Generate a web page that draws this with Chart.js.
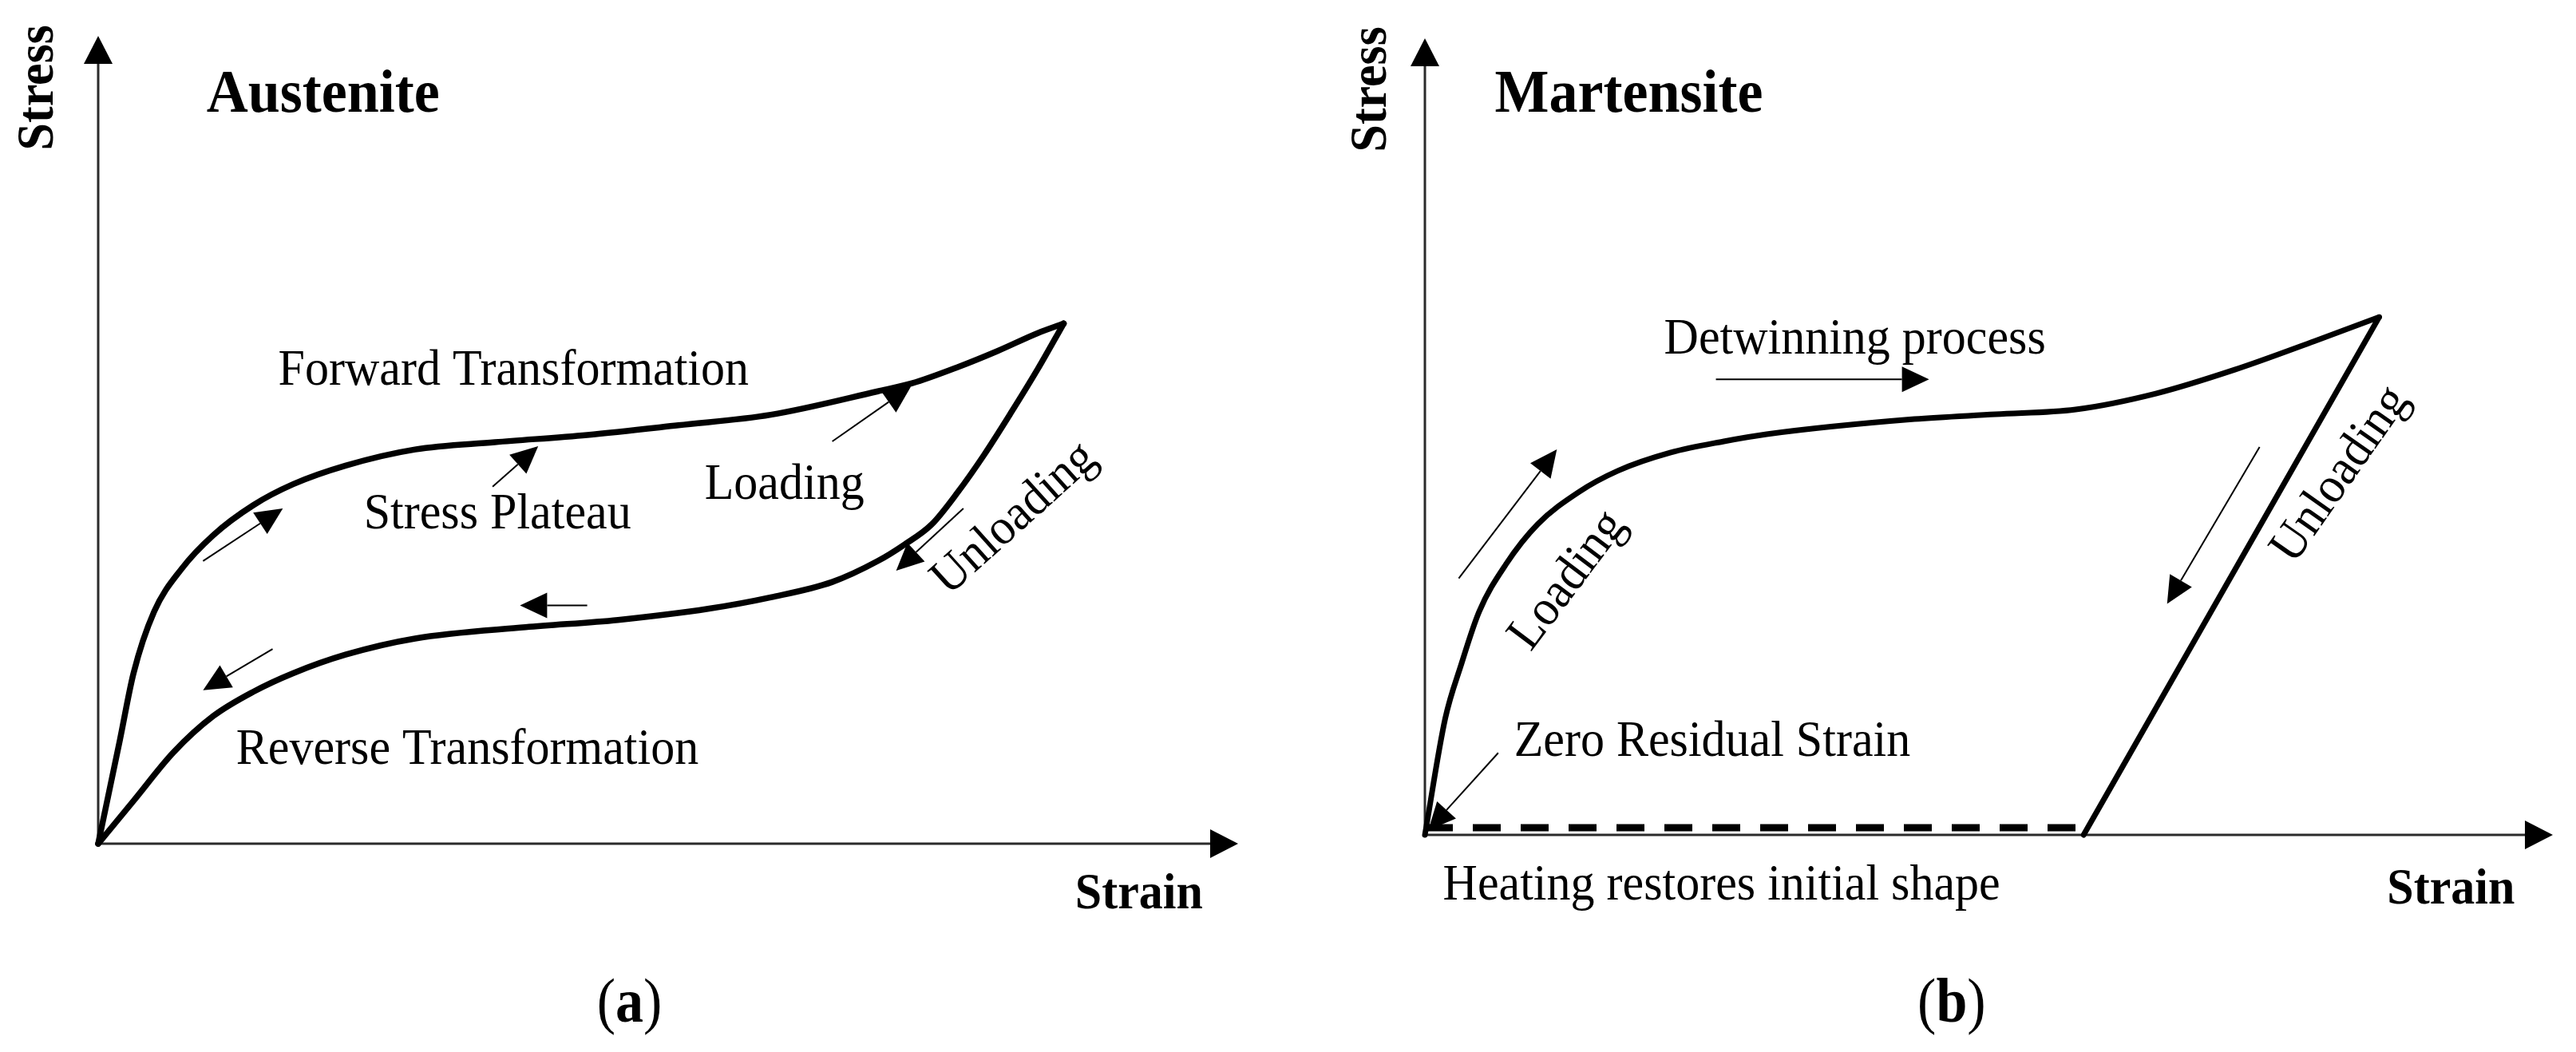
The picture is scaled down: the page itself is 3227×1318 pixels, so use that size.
<!DOCTYPE html>
<html>
<head>
<meta charset="utf-8">
<title>Austenite / Martensite stress-strain</title>
<script src="https://cdn.jsdelivr.net/npm/chart.js@4.4.1/dist/chart.umd.min.js"></script>
<style>
  html, body { margin: 0; padding: 0; background: #fff; }
  body { width: 3227px; height: 1318px; position: relative; overflow: hidden; }
  canvas { position: absolute; top: 0; }
  #austenite { left: 0; }
  #martensite { left: 1613px; }
</style>
</head>
<body>
<canvas id="austenite" width="1613" height="1318"></canvas>
<canvas id="martensite" width="1614" height="1318"></canvas>
<script>
// Normalised strain / stress (0-100)

// (a) Austenite - superelastic loop
const austForwardStrain = [0, 1.9, 3.1, 4.9, 7.3, 10.1, 13.6, 17.1, 21.7, 27.8, 34.8, 42.9, 50.9, 59.0, 68.4, 71.4, 75.4, 78.9, 82.4, 84.7];
const austForwardStress = [0, 12.8, 21.1, 28.7, 34.0, 38.2, 41.9, 44.5, 46.8, 48.8, 49.7, 50.6, 51.8, 53.1, 56.0, 57.0, 59.0, 61.0, 63.2, 64.4];
const austReverseStrain = [84.7, 82.4, 80.1, 77.7, 75.4, 73.1, 70.7, 68.4, 64.4, 59.0, 53.6, 45.6, 37.5, 27.8, 21.7, 17.1, 13.6, 10.1, 6.6, 3.1, 0];
const austReverseStress = [64.4, 58.7, 53.4, 48.1, 43.5, 39.5, 37.0, 35.0, 32.4, 30.5, 29.1, 27.7, 26.8, 25.4, 23.4, 21.1, 18.8, 15.8, 11.3, 5.3, 0];

// (b) Martensite - detwinning
const martLoadStrain = [0, 1.8, 3.2, 4.8, 7.2, 10.0, 13.6, 17.1, 21.8, 26.5, 30.3, 43.4, 50.6, 57.7, 64.8, 71.8, 78.9, 84.6];
const martLoadStress = [0, 14.6, 21.3, 28.0, 34.0, 39.0, 43.0, 45.7, 48.0, 49.4, 50.3, 52.2, 52.8, 53.4, 55.4, 58.4, 62.0, 65.0];
const martUnloadStrain = [84.6, 58.4];
const martUnloadStress = [65.0, 0];
const martHeatStrain = [0, 58.4];
const martHeatStress = [0.9, 0.9];

// annotation arrows: [tailStrain, tailStress, tipStrain, tipStress]
const austArrows = [
  [9.2, 35.0, 16.2, 41.5],
  [34.6, 44.2, 38.6, 49.2],
  [64.4, 49.8, 71.3, 56.6],
  [75.9, 41.5, 70.0, 33.8],
  [42.9, 29.5, 37.0, 29.5],
  [15.3, 24.1, 9.2, 19.0]
];
const martArrows = [
  [3.0, 32.2, 11.7, 48.4],
  [25.8, 57.2, 44.7, 57.2],
  [74.0, 48.7, 65.8, 29.0],
  [6.5, 10.3, 0.3, 0.6]
];

const SERIF = '"Liberation Serif", "Times New Roman", serif';
const STRETCH = 1.06; // text in the source is slightly tall

const austLabels = [
  { text: 'Austenite', x: 9.5, y: 90.6, size: 72, bold: true },
  { text: 'Stress', x: -5.2, y: 93.6, size: 62, bold: true, rot: -90, center: true },
  { text: 'Strain', x: 85.7, y: -8.0, size: 60, bold: true },
  { text: 'Forward Transformation', x: 15.8, y: 56.8, size: 60 },
  { text: 'Stress Plateau', x: 23.3, y: 39.0, size: 60 },
  { text: 'Loading', x: 53.2, y: 42.7, size: 60 },
  { text: 'Reverse Transformation', x: 12.1, y: 9.9, size: 60 },
  { text: 'Unloading', x: 80.4, y: 40.2, size: 60, rot: -42, center: true }
];
const martLabels = [
  { text: 'Martensite', x: 6.2, y: 90.8, size: 72, bold: true },
  { text: 'Stress', x: -4.7, y: 93.6, size: 62, bold: true, rot: -90, center: true },
  { text: 'Strain', x: 85.3, y: -8.6, size: 60, bold: true },
  { text: 'Detwinning process', x: 21.2, y: 60.4, size: 60 },
  { text: 'Loading', x: 12.7, y: 31.9, size: 60, rot: -53, center: true },
  { text: 'Unloading', x: 81.2, y: 45.2, size: 60, rot: -55, center: true },
  { text: 'Zero Residual Strain', x: 7.9, y: 9.9, size: 60 },
  { text: 'Heating restores initial shape', x: 1.6, y: -8.1, size: 60 }
];

// points sorted by strain so the monotone spline can be used
function pairs(xs, ys) {
  return xs.map((v, i) => ({ x: v, y: ys[i] })).sort((a, b) => a.x - b.x);
}

function drawArrow(ctx, x1, y1, x2, y2, len, half, width) {
  const a = Math.atan2(y2 - y1, x2 - x1);
  const bx = x2 - len * Math.cos(a), by = y2 - len * Math.sin(a);
  ctx.lineWidth = width;
  ctx.beginPath();
  ctx.moveTo(x1, y1);
  ctx.lineTo(bx, by);
  ctx.stroke();
  ctx.beginPath();
  ctx.moveTo(x2, y2);
  ctx.lineTo(bx + half * Math.sin(a), by - half * Math.cos(a));
  ctx.lineTo(bx - half * Math.sin(a), by + half * Math.cos(a));
  ctx.closePath();
  ctx.fill();
}

// axes with arrow heads, drawn under the curves
const axesPlugin = {
  id: 'arrowAxes',
  beforeDatasetsDraw(chart) {
    const { ctx, scales: { x, y } } = chart;
    const ox = x.getPixelForValue(0), oy = y.getPixelForValue(0);
    ctx.save();
    ctx.strokeStyle = '#2b2b2b';
    ctx.fillStyle = '#000';
    drawArrow(ctx, ox, oy + 1, ox, y.getPixelForValue(100), 35, 18, 3);
    drawArrow(ctx, ox - 1, oy, x.getPixelForValue(100), oy, 35, 18, 3);
    ctx.restore();
  }
};

// small direction arrows, labels and panel caption
const notesPlugin = {
  id: 'notes',
  afterDatasetsDraw(chart, args, opts) {
    const { ctx, scales: { x, y } } = chart;
    ctx.save();
    ctx.strokeStyle = '#000';
    ctx.fillStyle = '#000';
    opts.arrows.forEach(a => {
      drawArrow(ctx, x.getPixelForValue(a[0]), y.getPixelForValue(a[1]),
        x.getPixelForValue(a[2]), y.getPixelForValue(a[3]), 34, 16, 2);
    });
    opts.labels.forEach(l => {
      ctx.save();
      ctx.font = (l.bold ? 'bold ' : '') + l.size + 'px ' + SERIF;
      ctx.textAlign = l.center ? 'center' : 'left';
      ctx.textBaseline = l.center ? 'middle' : 'alphabetic';
      ctx.translate(x.getPixelForValue(l.x), y.getPixelForValue(l.y));
      if (l.rot) ctx.rotate(l.rot * Math.PI / 180);
      ctx.scale(1, STRETCH);
      ctx.fillText(l.text, 0, 0);
      ctx.restore();
    });
    // caption "(a)" / "(b)" with bold letter
    const c = opts.caption;
    const parts = [['(', ''], [c.letter, 'bold '], [')', '']];
    let total = 0;
    parts.forEach(p => { ctx.font = p[1] + c.size + 'px ' + SERIF; total += ctx.measureText(p[0]).width; });
    let cx = x.getPixelForValue(c.x) - total / 2;
    const cy = y.getPixelForValue(c.y);
    ctx.textAlign = 'left';
    ctx.textBaseline = 'alphabetic';
    parts.forEach(p => {
      ctx.font = p[1] + c.size + 'px ' + SERIF;
      ctx.save();
      ctx.translate(cx, cy);
      ctx.scale(1, 1.12);
      ctx.fillText(p[0], 0, 0);
      ctx.restore();
      cx += ctx.measureText(p[0]).width;
    });
    ctx.restore();
  }
};

function curve(points, width, extra) {
  return Object.assign({
    data: points,
    showLine: true,
    borderColor: '#000',
    borderWidth: width,
    pointRadius: 0,
    cubicInterpolationMode: 'monotone',
    clip: false,
    borderCapStyle: 'round',
    borderJoinStyle: 'round'
  }, extra || {});
}

function baseOptions(padding, arrows, labels, caption) {
  return {
    responsive: false,
    animation: false,
    layout: { padding: padding },
    scales: {
      x: { type: 'linear', min: 0, max: 100, display: false },
      y: { type: 'linear', min: 0, max: 100, display: false }
    },
    plugins: {
      legend: { display: false },
      tooltip: { enabled: false },
      notes: { arrows: arrows, labels: labels, caption: caption }
    }
  };
}

document.addEventListener('DOMContentLoaded', () => {
  new Chart(document.getElementById('austenite').getContext('2d'), {
    type: 'scatter',
    data: {
      datasets: [
        curve(pairs(austForwardStrain, austForwardStress), 7.5),
        curve(pairs(austReverseStrain, austReverseStress), 7.5)
      ]
    },
    options: baseOptions({ left: 123, top: 45, right: 62, bottom: 261 },
      austArrows, austLabels, { letter: 'a', x: 46.6, y: -22.0, size: 70 }),
    plugins: [axesPlugin, notesPlugin]
  });

  new Chart(document.getElementById('martensite').getContext('2d'), {
    type: 'scatter',
    data: {
      datasets: [
        curve(pairs(martLoadStrain, martLoadStress), 7),
        curve(pairs(martUnloadStrain, martUnloadStress), 7, { cubicInterpolationMode: 'default', tension: 0 }),
        curve(pairs(martHeatStrain, martHeatStress), 9, { cubicInterpolationMode: 'default', tension: 0, borderDash: [35, 25], borderCapStyle: 'butt' })
      ]
    },
    options: baseOptions({ left: 172, top: 48, right: 29, bottom: 272 },
      martArrows, martLabels, { letter: 'b', x: 46.7, y: -23.4, size: 70 }),
    plugins: [axesPlugin, notesPlugin]
  });
});
</script>
</body>
</html>
